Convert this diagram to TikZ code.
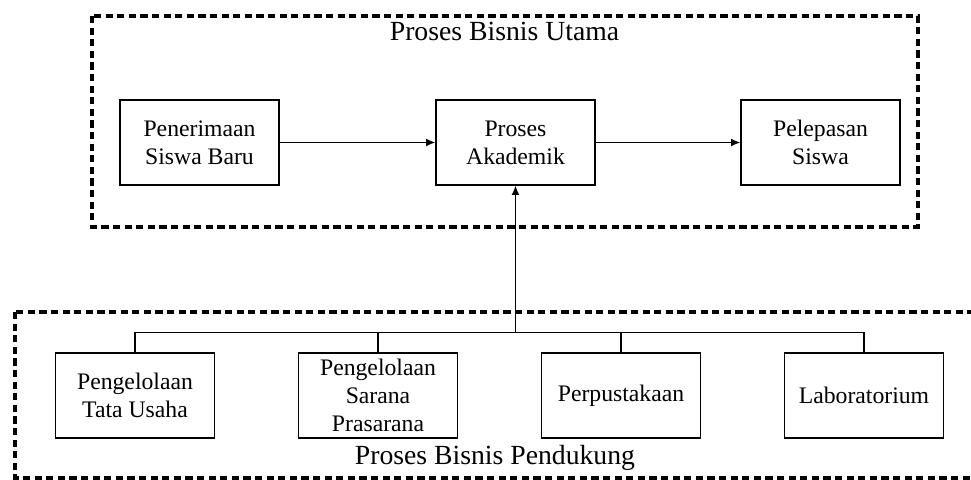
\documentclass[tikz,border=0pt]{standalone}
\usepackage{fontspec}
\setmainfont{Liberation Serif}
\usetikzlibrary{positioning,arrows.meta}

\begin{document}
\begin{tikzpicture}[
    x=0.5pt, y=-0.5pt,
    >={Latex[length=4.6pt,width=4pt]},
    proc/.style={rectangle, draw=black, line width=0.7pt, fill=white, align=center, minimum width=79.5pt, minimum height=42.5pt, inner sep=1pt, font=\fontsize{11.85pt}{14pt}\selectfont},
    frame/.style={draw=black, line width=1.7pt, dash pattern=on 3.6pt off 2.2pt},
    title/.style={anchor=base, inner sep=0pt, font=\fontsize{13.85pt}{16pt}\selectfont},
    link/.style={line width=0.7pt},
    node distance=41.3pt
  ]
    \clip (0,0) rectangle (971,480);

    % frames
    \draw[frame] (92,16) rectangle (918,227);
    \draw[frame] (15,312) rectangle (990,478);
    \node[title] (utama) at (504.5,41) {Proses Bisnis Utama};
    \node[title] (dukung) at (495,465) {Proses Bisnis Pendukung};

    % main process
    \node[proc] (akd) at (515.5,142.5) {Proses\\Akademik};
    \node[proc] (pnr) at (199.5,142.5) {Penerimaan\\Siswa Baru};
    \node[proc] (pls) at (820.5,142.5) {Pelepasan\\Siswa};

    % support process
    \node[proc] (tu) at (135,395.5) {Pengelolaan\\Tata Usaha};
    \node[proc, right=of tu] (sp) {Pengelolaan\\Sarana\\Prasarana};
    \node[proc, right=of sp] (pp) {Perpustakaan};
    \node[proc, right=of pp] (lab) {Laboratorium};
    \coordinate (jn) at (515.5,333);

    \draw[->, link] (pnr) -- (akd);
    \draw[->, link] (akd) -- (pls);
    \draw[link] (tu.north) -- ++(0,-20) -| (lab.north);
    \draw[link] (sp.north) -- ++(0,-20);
    \draw[link] (pp.north) -- ++(0,-20);
    \draw[->, link] (jn) -- (akd.south);
  \end{tikzpicture}
\end{document}
